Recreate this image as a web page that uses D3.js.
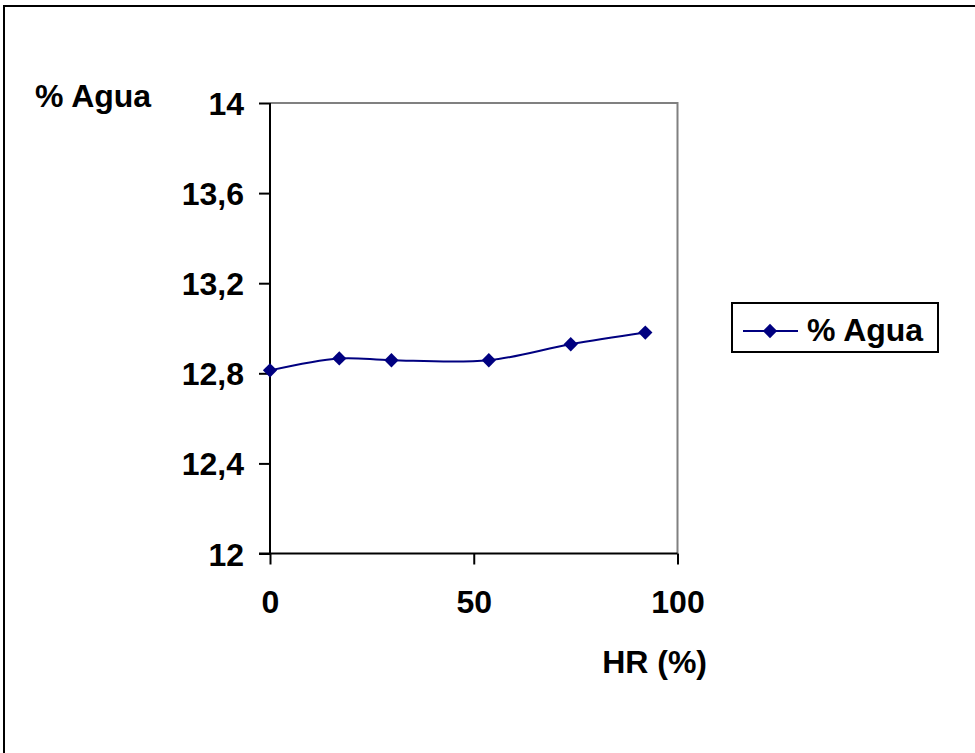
<!DOCTYPE html>
<html>
<head>
<meta charset="utf-8">
<script src="https://cdn.jsdelivr.net/npm/d3@7/dist/d3.min.js"></script>
<style>
  html, body { margin: 0; padding: 0; background: #fff; }
  svg { display: block; }
  text { font-family: "Liberation Sans", Arial, sans-serif; font-weight: bold; fill: #000; }
</style>
</head>
<body>
<script>
// Data
const hr = [0, 17, 29.8, 53.7, 73.8, 92.1];
const agua = [12.813, 12.866, 12.858, 12.858, 12.929, 12.981];
const seriesName = "% Agua";
const xTicks = [0, 50, 100];
const yTicks = [12, 12.4, 12.8, 13.2, 13.6, 14];
const yTickLabels = ["12", "12,4", "12,8", "13,2", "13,6", "14"];
const xTitle = "HR (%)";
const yTitle = "% Agua";

(function () {
const W = 975, H = 753;
const svg = d3.select("body").append("svg").attr("width", W).attr("height", H);

// outer frame (extends beyond right/bottom edge)
svg.append("rect").attr("x", 4).attr("y", 6).attr("width", W + 10).attr("height", H + 10)
  .attr("fill", "#fff").attr("stroke", "#000").attr("stroke-width", 2);

const pL = 270, pR = 677.5, pT = 103, pB = 553.5;
const x = d3.scaleLinear().domain([0, 100]).range([pL, pR]);
const y = d3.scaleLinear().domain([12, 14]).range([pB, pT]);

// plot area top/right border in gray
svg.append("path")
  .attr("d", `M${pL},${pT}H${pR}V${pB}`)
  .attr("fill", "none").attr("stroke", "#808080").attr("stroke-width", 2);

const fs = 32;
// y axis
const yAxis = d3.axisLeft(y).tickValues(yTicks).tickSize(11).tickPadding(15)
  .tickFormat((d, i) => yTickLabels[i]);
const gy = svg.append("g").attr("transform", `translate(${pL},0)`).call(yAxis);
gy.selectAll("path, line").attr("stroke", "#000").attr("stroke-width", 2);
gy.selectAll("text").style("font-size", fs + "px").attr("dy", "0.36em");
gy.select(".domain").attr("d", `M0,${pT}V${pB}`);

// x axis
const xAxis = d3.axisBottom(x).tickValues(xTicks).tickSize(11).tickPadding(26);
const gx = svg.append("g").attr("transform", `translate(0,${pB})`).call(xAxis);
gx.selectAll("path, line").attr("stroke", "#000").attr("stroke-width", 2);
gx.selectAll("text").style("font-size", fs + "px").attr("dy", "0.71em");
gx.select(".domain").attr("d", `M${pL - 11},0H${pR}`);

// titles
svg.append("text").attr("x", 35).attr("y", 107).style("font-size", fs + "px").text(yTitle);
svg.append("text").attr("x", 707).attr("y", 673).attr("text-anchor", "end")
  .style("font-size", fs + "px").text(xTitle);

// series
const pts = hr.map((d, i) => [d, agua[i]]);
const line = d3.line().x(d => x(d[0])).y(d => y(d[1])).curve(d3.curveCatmullRom.alpha(0.5));
svg.append("path").attr("d", line(pts)).attr("fill", "none")
  .attr("stroke", "#000080").attr("stroke-width", 2);
const diamond = d3.symbol().type(d3.symbolDiamond2).size(130);
svg.selectAll(".pt").data(pts).join("path")
  .attr("transform", d => `translate(${x(d[0])},${y(d[1])})`)
  .attr("d", diamond).attr("fill", "#000080");

// legend
const lg = svg.append("g");
lg.append("rect").attr("x", 732).attr("y", 303).attr("width", 206).attr("height", 49)
  .attr("fill", "#fff").attr("stroke", "#000").attr("stroke-width", 2);
lg.append("line").attr("x1", 743).attr("x2", 798).attr("y1", 331).attr("y2", 331)
  .attr("stroke", "#000080").attr("stroke-width", 2);
lg.append("path").attr("transform", "translate(770,331)").attr("d", diamond).attr("fill", "#000080");
lg.append("text").attr("x", 807).attr("y", 341).style("font-size", fs + "px").text(seriesName);
})();
</script>
</body>
</html>
